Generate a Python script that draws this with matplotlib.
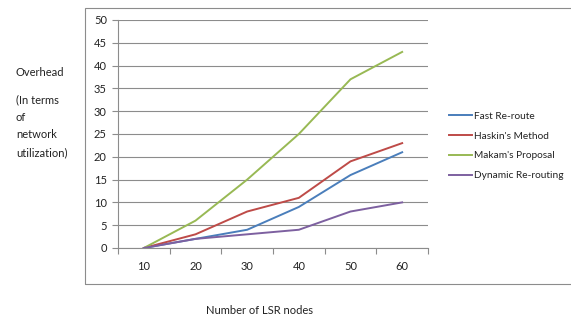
import matplotlib
matplotlib.use("Agg")
import matplotlib.pyplot as plt
from matplotlib.patches import Rectangle
import numpy as np

plt.rcParams["font.family"] = ["Lato", "DejaVu Sans"]

W, H = 571, 320

nodes = [10, 20, 30, 40, 50, 60]
fast_reroute = [0, 2, 4, 9, 16, 21]
haskin = [0, 3, 8, 11, 19, 23]
makam = [0, 6, 15, 25, 37, 43]
dynamic = [0, 2, 3, 4, 8, 10]

SERIES = [
    ("Fast Re-route", fast_reroute, "#4a7ebb"),
    ("Haskin's Method", haskin, "#be4b48"),
    ("Makam's Proposal", makam, "#98b954"),
    ("Dynamic Re-routing", dynamic, "#7d60a0"),
]

GRID = "#8c8c8c"
TXT = "#222222"
FS = 8
LEG_FS = 7.3

fig = plt.figure(figsize=(W / 100, H / 100), dpi=100)

# outer chart frame
fig.patches.append(Rectangle((85 / W, 1 - 284 / H), 600 / W, (284 - 8) / H,
                             transform=fig.transFigure, fill=False,
                             edgecolor="#8c8c8c", linewidth=0.8))

ax = fig.add_axes([118 / W, 1 - 248 / H, 310 / W, 228 / H])
x = np.arange(len(nodes))
for name, vals, color in SERIES:
    ax.plot(x, vals, color=color, linewidth=1.4, label=name)

ax.set_xlim(-0.5, len(nodes) - 0.5)
ax.set_ylim(0, 50)
ax.set_yticks(np.arange(0, 51, 5))
ax.set_xticks(x)
ax.set_xticklabels([str(n) for n in nodes])
ax.set_xticks(np.arange(-0.5, len(nodes), 1.0), minor=True)
ax.tick_params(axis="x", which="major", length=0, pad=9, labelsize=FS, colors=TXT)
ax.tick_params(axis="x", which="minor", length=4, color=GRID, width=0.8)
ax.tick_params(axis="y", length=4, color=GRID, width=0.8, pad=4,
               labelsize=FS, labelcolor=TXT)
ax.grid(axis="y", color=GRID, linewidth=0.8)
ax.set_axisbelow(True)
for side in ("top", "right"):
    ax.spines[side].set_visible(False)
for side in ("left", "bottom"):
    ax.spines[side].set_color(GRID)
    ax.spines[side].set_linewidth(0.8)

# y-axis title block
fig.text(16 / W, 1 - 72 / H, "Overhead", fontsize=FS, color=TXT, va="center")
for i, line in enumerate(["(In terms", "of", "network", "utilization)"]):
    fig.text(16 / W, 1 - (100 + i * 17.5) / H, line, fontsize=FS,
             color=TXT, va="center")

fig.text(260 / W, 1 - 311 / H, "Number of LSR nodes", fontsize=FS,
         color=TXT, ha="center", va="center")

leg = ax.legend(loc="center left", bbox_to_anchor=(444 / W, 1 - 146 / H),
                bbox_transform=fig.transFigure, frameon=False, fontsize=LEG_FS,
                handlelength=2.3, handletextpad=0.2, labelspacing=1.05,
                borderpad=0, labelcolor=TXT)

fig.savefig("out.png", dpi=100)
